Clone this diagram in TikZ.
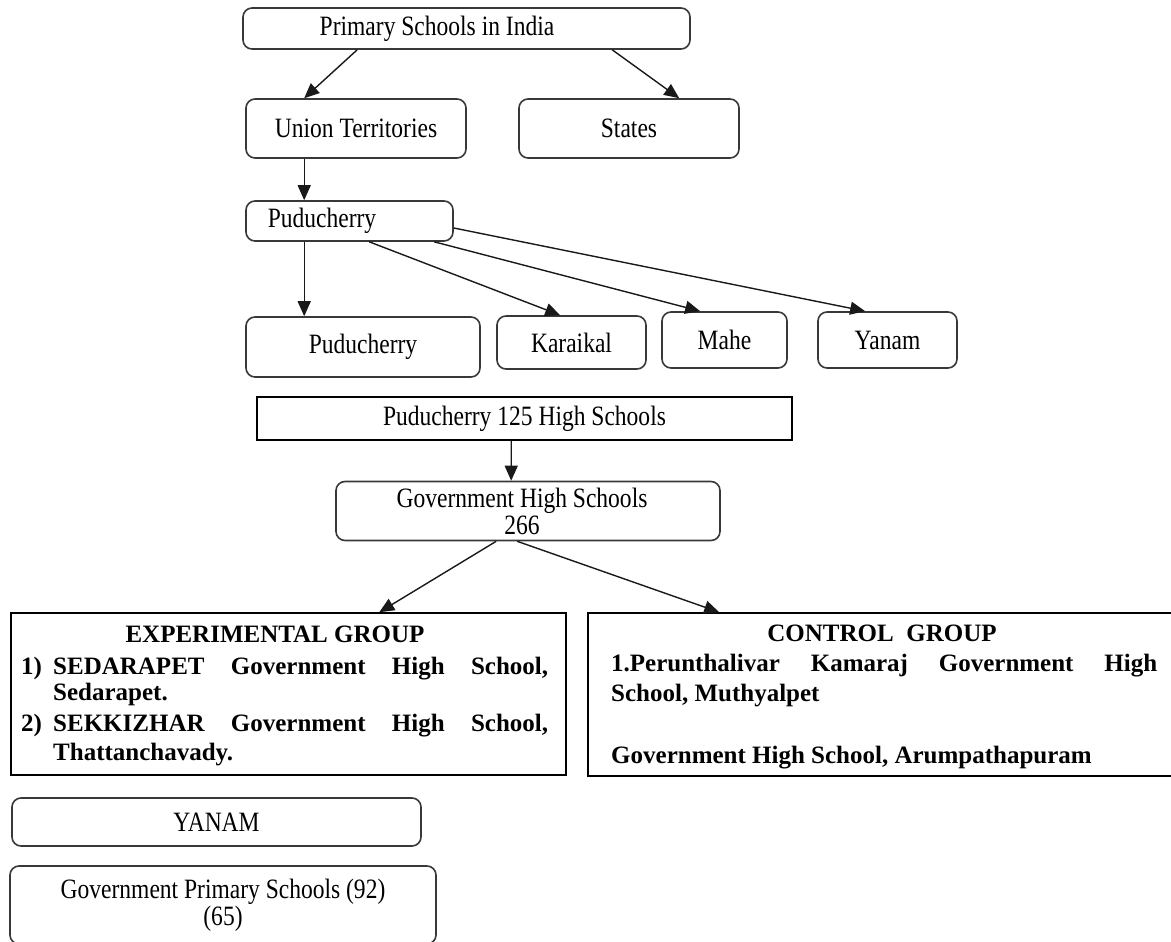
\documentclass[tikz,border=0pt]{standalone}
\usepackage{fontspec}
\setmainfont{Liberation Serif}[FakeStretch=0.84]
\newfontfamily\bsf{Liberation Serif}
\usetikzlibrary{arrows.meta,calc}
\tikzset{
  rbox/.style={draw=black!78, line width=1.6pt, rounded corners=9pt, inner sep=0pt, align=center,
    font=\fontsize{28}{27}\selectfont},
  sbox/.style={draw=black, line width=1.5pt, inner sep=0pt, align=center,
    font=\fontsize{28}{27}\selectfont},
  gbox/.style={draw=black, line width=1.5pt, inner sep=0pt},
  btxt/.style={inner sep=0pt, font=\bsf\bfseries\fontsize{25}{28}\selectfont},
  arr/.style={draw=black!90, line width=1.4pt, -{Triangle[length=15pt,width=13pt]}}
}
\begin{document}
\begin{tikzpicture}[x=1pt,y=-1pt]
\useasboundingbox (0,0) rectangle (1171,942);
\clip (0,0) rectangle (1171,942);
% boxes
\node[rbox, minimum width=447, minimum height=41] (india) at (466.5,28.5) {\hspace*{-59pt}Primary Schools in India};
\node[rbox, minimum width=220, minimum height=59] (ut) at (356,128.5) {Union Territories};
\node[rbox, minimum width=220, minimum height=59] (states) at (629,128.5) {States};
\node[rbox, minimum width=207, minimum height=40] (pudu) at (349.5,221) {\hspace*{-55pt}Puducherry};
\node[rbox, minimum width=234, minimum height=60] (pudu2) at (363,347) {Puducherry};
\node[rbox, minimum width=149, minimum height=53] (kar) at (571.5,342.5) {Karaikal};
\node[rbox, minimum width=125, minimum height=56] (mahe) at (724.5,340) {Mahe};
\node[rbox, minimum width=139, minimum height=56] (yanam) at (887.5,340) {Yanam};
\node[sbox, minimum width=535, minimum height=43] (hs) at (524.5,418.5) {Puducherry 125 High Schools};
\node[rbox, minimum width=384, minimum height=59] (ghs) at (528,511) {\hspace*{-12pt}Government High Schools\\\hspace*{-12pt}266};
\node[gbox, minimum width=555, minimum height=162] (exp) at (288.5,694) {};
\node[gbox, minimum width=600, minimum height=163] (ctl) at (888,694.5) {};
\node[rbox, minimum width=409, minimum height=48] (yan) at (216.5,822) {YANAM};
\node[rbox, minimum width=426, minimum height=78] (gps) at (223,905) {Government Primary Schools (92)\\(65)};
% experimental group text
\node[btxt, anchor=base] (expT) at (275,642) {EXPERIMENTAL GROUP};
\node[btxt, anchor=base west] (e1n) at (21,674) {1)};
\node[btxt, anchor=base west] (e1) at (53,674) {\hbox to 495pt{SEDARAPET\hfill Government\hfill High\hfill School,}};
\node[btxt, anchor=base west] (e1b) at (53,700) {Sedarapet.};
\node[btxt, anchor=base west] (e2n) at (21,731) {2)};
\node[btxt, anchor=base west] (e2) at (53,731) {\hbox to 495pt{SEKKIZHAR\hfill Government\hfill High\hfill School,}};
\node[btxt, anchor=base west] (e2b) at (53,760) {Thattanchavady.};
% control group text
\node[btxt, anchor=base] (ctlT) at (882,641) {CONTROL\ \ GROUP};
\node[btxt, anchor=base west] (c1) at (611,671) {\hbox to 546pt{1.Perunthalivar\hfill Kamaraj\hfill Government\hfill High}};
\node[btxt, anchor=base west] (c1b) at (611,701) {School, Muthyalpet};
\node[btxt, anchor=base west] (c2) at (611,763) {Government High School, Arumpathapuram};
% connectors
\draw[arr] ($(india.south west)+(115,0)$) -- ($(ut.north west)+(59,0)$);
\draw[arr] ($(india.south west)+(370,0)$) -- ($(states.north west)+(161,0)$);
\draw[arr] ($(ut.south west)+(59,0)$) -- ($(pudu.north west)+(59,0)$);
\draw[arr] ($(pudu.south west)+(59,0)$) -- ($(pudu2.north west)+(59,0)$);
\draw[arr] ($(pudu.south west)+(124,0)$) -- ($(kar.north west)+(64,0)$);
\draw[arr] ($(pudu.south west)+(189,0)$) -- ($(mahe.north west)+(39,0)$);
\draw[arr] ($(pudu.east)+(0,7)$) -- ($(yanam.north west)+(48,0)$);
\draw[arr] ($(hs.south west)+(255,0)$) -- ($(ghs.north west)+(176,0)$);
\draw[arr] ($(ghs.south west)+(161,0)$) -- ($(exp.north west)+(369,0)$);
\draw[arr] ($(ghs.south west)+(182,0)$) -- ($(ctl.north west)+(132,0)$);
\end{tikzpicture}
\end{document}
